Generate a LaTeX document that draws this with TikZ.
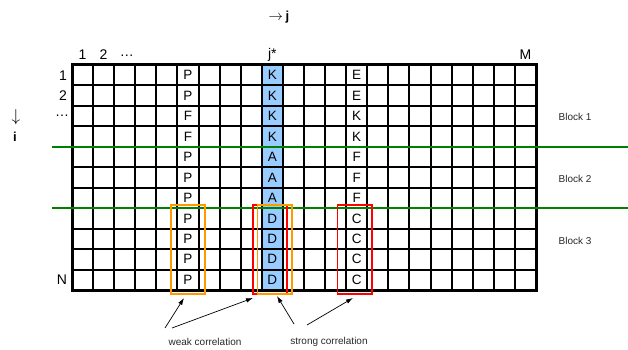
\documentclass[tikz,border=0pt]{standalone}
\usepackage{fontspec}
\setmainfont{Liberation Sans}
\usetikzlibrary{arrows.meta}
\definecolor{colblue}{RGB}{153,204,255}
\definecolor{blkgreen}{RGB}{0,128,0}
\definecolor{boxorange}{RGB}{255,153,0}
\definecolor{boxred}{RGB}{255,0,0}
\definecolor{notegray}{RGB}{40,40,40}
\begin{document}
\begin{tikzpicture}[x=1pt,y=-1pt,
  cell/.style={font=\fontsize{13.5}{13.5}\selectfont, inner sep=0pt},
  lab/.style={font=\fontsize{14}{14}\selectfont, inner sep=0pt},
  axislab/.style={font=\fontsize{13}{13}\selectfont\bfseries, inner sep=0pt},
  note/.style={font=\fontsize{10}{10}\selectfont, text=notegray, inner sep=0pt},
  gridline/.style={line width=2pt},
  blockline/.style={draw=blkgreen, line width=2.5pt},
  boxo/.style={draw=boxorange, line width=1.6pt},
  boxr/.style={draw=boxred, line width=1.6pt},
  ptr/.style={-{Latex[length=7pt,width=4.5pt]}, line width=0.7pt}
]
\useasboundingbox (0,0) rectangle (628,350);
\def\cw{21.09}
\def\rh{20.4545}
% highlighted column
\fill[colblue] ({72+9*\cw},65) rectangle ({72+10*\cw},290);
% grid
\foreach \k in {1,...,21} \draw[gridline] ({72+\k*\cw},65) -- ({72+\k*\cw},290);
\foreach \k in {1,...,10} \draw[gridline] (72,{65+\k*\rh}) -- (536,{65+\k*\rh});
\draw[line width=3pt] (72,65) rectangle (536,290);
% cell letters
\foreach \L [count=\r] in {P,P,F,F,P,P,P,P,P,P,P}
  \node[cell] (p\r) at ({72+5.5*\cw},{65+(\r-0.5)*\rh}) {\L};
\foreach \L [count=\r] in {K,K,K,K,A,A,A,D,D,D,D}
  \node[cell] (k\r) at ({72+9.5*\cw},{65+(\r-0.5)*\rh}) {\L};
\foreach \L [count=\r] in {E,E,K,K,F,F,F,C,C,C,C}
  \node[cell] (e\r) at ({72+13.5*\cw},{65+(\r-0.5)*\rh}) {\L};
% row labels
\node[lab] (r1) at (63,{65+0.5*\rh}) {1};
\node[lab] (r2) at (63,{65+1.5*\rh}) {2};
\node[lab] (r3) at (62,{65+2.5*\rh}) {\dots};
\node[lab] (rN) at (62,{65+10.5*\rh}) {N};
% column labels
\node[lab] (c1) at ({72+0.5*\cw},55) {1};
\node[lab] (c2) at ({72+1.5*\cw},55) {2};
\node[lab] (c3) at ({72+2.6*\cw},56) {\dots};
\node[lab] (cj) at ({72+9.5*\cw},55) {j*};
\node[lab] (cM) at ({72+21.5*\cw},55) {M};
% axis labels
\node[axislab] (aj) at (279,17) {\fontsize{15}{15}\selectfont$\rightarrow$\,\fontsize{13}{13}\selectfont j};
\node[axislab] (ai) at (16,117) {\fontsize{16}{16}\selectfont$\downarrow$};
\node[axislab] (aii) at (15,137) {i};
% block separators
\draw[blockline] (52,{65+4*\rh}) -- (628,{65+4*\rh});
\draw[blockline] (52,{65+7*\rh}) -- (628,{65+7*\rh});
% block labels
\node[note] (b1) at (575,117) {Block 1};
\node[note] (b2) at (575,179) {Block 2};
\node[note] (b3) at (575,241) {Block 3};
% correlation boxes
\draw[boxr] (252.7,205) rectangle (286.7,294);
\draw[boxo] (257.3,205) rectangle (291.7,294);
\draw[boxo] (170.7,205) rectangle (205,294);
\draw[boxr] (337.3,205) rectangle (371.7,294);
% notes
\node[note] (weak) at (205,342) {weak correlation};
\node[note] (strong) at (329,342) {strong correlation};
% arrow ends
\coordinate (wt1) at (165,328);
\coordinate (wt2) at (172,328);
\coordinate (wh1) at (184,298);
\coordinate (wh2) at (253,298);
\coordinate (st1) at (294,324);
\coordinate (st2) at (307,325);
\coordinate (sh1) at (277,296);
\coordinate (sh2) at (353,298);
\draw[ptr] (wt1) -- (wh1);
\draw[ptr] (wt2) -- (wh2);
\draw[ptr] (st1) -- (sh1);
\draw[ptr] (st2) -- (sh2);
\end{tikzpicture}
\end{document}
